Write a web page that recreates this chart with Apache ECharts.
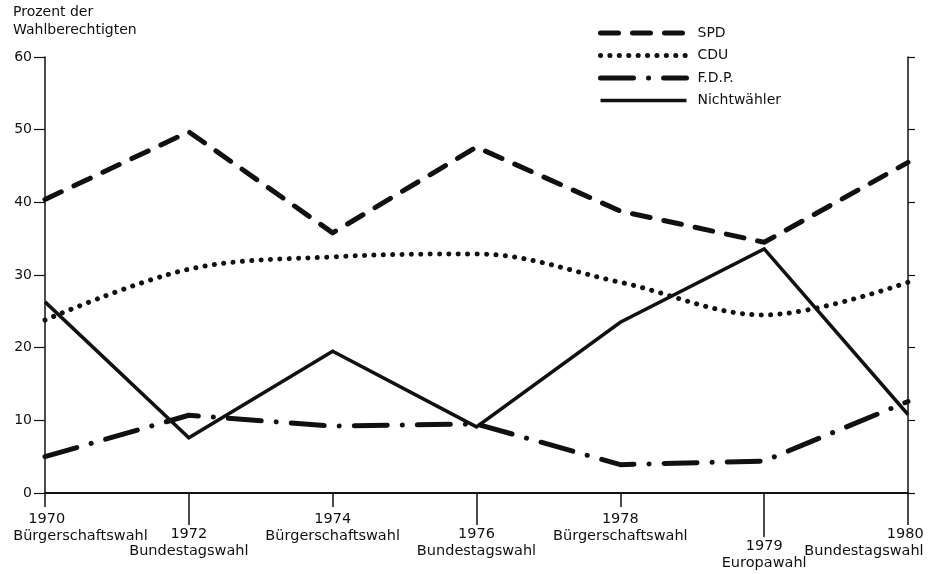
<!DOCTYPE html>
<html>
<head>
<meta charset="utf-8">
<script src="https://cdn.jsdelivr.net/npm/echarts@6/dist/echarts.min.js"></script>
<style>
  html, body { margin: 0; padding: 0; background: #fff; }
  #chart { width: 934px; height: 574px; }
</style>
</head>
<body>
<div id="chart"></div>
<script>
// Election years and the kind of election held in each
const years = ['1970', '1972', '1974', '1976', '1978', '1979', '1980'];
const elections = ['Bürgerschaftswahl', 'Bundestagswahl', 'Bürgerschaftswahl', 'Bundestagswahl',
                   'Bürgerschaftswahl', 'Europawahl', 'Bundestagswahl'];

// Share of eligible voters (percent)
const spd   = [40.4, 49.7, 35.8, 47.6, 38.8, 34.5, 45.5];
const cdu   = [23.8, 30.8, 32.5, 32.9, 29.0, 24.5, 29.0];
const fdp   = [5.0, 10.7, 9.2, 9.5, 3.9, 4.4, 12.6];
const nicht = [26.3, 7.6, 19.5, 9.1, 23.5, 33.6, 10.8];

const seriesNames = ['SPD', 'CDU', 'F.D.P.', 'Nichtwähler'];
const yMin = 0, yMax = 60, yStep = 10;
const yTitle = 'Prozent der\nWahlberechtigten';

const INK = '#111';
const FONT = 'DejaVu Sans';

// Two-line axis labels: year above election name, staggered by election type
function xLabel(value, index) {
  const name = elections[index];
  if (index === 0) return '{y0|' + value + '}\n{n0|' + name + '}';
  if (index === years.length - 1) return '{s| }\n{yr|' + value + '}\n{nr|' + name + '}';
  if (name === 'Europawahl') return '{s2| }\n{y|' + value + '}\n{n|' + name + '}';
  if (name === 'Bundestagswahl') return '{s| }\n{y|' + value + '}\n{n|' + name + '}';
  return '{y|' + value + '}\n{n|' + name + '}';
}

const txt = { fontSize: 14.5, lineHeight: 17, color: INK, fontFamily: FONT };
const labelRich = {
  y: txt, n: txt,
  y0: Object.assign({}, txt, { align: 'left', padding: [0, 0, 0, 86] }),
  n0: Object.assign({}, txt, { padding: [0, 0, 0, 71] }),
  yr: Object.assign({}, txt, { align: 'right', padding: [0, 88, 0, 0] }),
  nr: Object.assign({}, txt, { align: 'right', padding: [0, 88, 0, 0] }),
  s:  { fontSize: 6, lineHeight: 15 },
  s2: { fontSize: 6, lineHeight: 27 }
};

const gridBox = { left: 45, right: 26, top: 57, bottom: 81, outerBoundsMode: 'none', containLabel: false };

// Extra tick-only axes give longer ticks under selected years
function tickAxis(gridIndex, length, picks) {
  return {
    type: 'category', gridIndex: gridIndex, data: years, boundaryGap: false,
    axisLine: { show: false }, axisLabel: { show: false }, splitLine: { show: false },
    axisTick: { show: true, length: length, lineStyle: { color: INK, width: 1.5 },
                interval: function (i) { return picks.indexOf(i) >= 0; } }
  };
}
function hiddenY(gridIndex) {
  return { type: 'value', gridIndex: gridIndex, min: yMin, max: yMax, show: false };
}

const option = {
  backgroundColor: '#fff',
  animation: false,
  textStyle: { fontFamily: FONT, color: INK },
  title: {
    text: yTitle, left: 13, top: 3, padding: 0,
    textStyle: { fontSize: 14, fontWeight: 'normal', lineHeight: 18, color: INK, fontFamily: FONT }
  },
  legend: {
    orient: 'vertical', left: 598, top: 26, padding: 0,
    itemWidth: 86, itemHeight: 14, itemGap: 8.5,
    data: seriesNames,
    textStyle: { fontSize: 14, color: INK, fontFamily: FONT, padding: [0, 0, 0, 6] },
    itemStyle: { opacity: 0 },
    lineStyle: { width: 'inherit' }
  },
  grid: [gridBox, gridBox, gridBox],
  xAxis: [
    {
      type: 'category', gridIndex: 0, data: years, boundaryGap: false,
      axisLine: { show: true, lineStyle: { color: INK, width: 2 } },
      axisTick: { show: true, length: 14, lineStyle: { color: INK, width: 1.5 } },
      axisLabel: { interval: 0, margin: 18, formatter: xLabel, rich: labelRich, color: INK },
      splitLine: { show: false }
    },
    tickAxis(1, 32, [1, 3, 6]),
    tickAxis(2, 44, [5])
  ],
  yAxis: [
    {
      type: 'value', gridIndex: 0, position: 'left', min: yMin, max: yMax, interval: yStep,
      axisLine: { show: true, lineStyle: { color: INK, width: 1.5 } },
      axisTick: { show: true, length: 11, lineStyle: { color: INK, width: 1.2 } },
      axisLabel: { margin: 13, fontSize: 14, color: INK, fontFamily: FONT },
      splitLine: { show: false }
    },
    {
      type: 'value', gridIndex: 0, position: 'right', min: yMin, max: yMax, interval: yStep,
      axisLine: { show: true, lineStyle: { color: INK, width: 1.5 } },
      axisTick: { show: true, length: 7, lineStyle: { color: INK, width: 1.2 } },
      axisLabel: { show: false },
      splitLine: { show: false }
    },
    hiddenY(1),
    hiddenY(2)
  ],
  series: [
    {
      name: seriesNames[0], type: 'line', data: spd, symbol: 'none',
      itemStyle: { color: INK },
      lineStyle: { color: INK, width: 5, type: [18, 14], cap: 'round', join: 'round' }
    },
    {
      name: seriesNames[1], type: 'line', data: cdu, symbol: 'none', smooth: 0.35,
      itemStyle: { color: INK },
      lineStyle: { color: INK, width: 5, type: [0.1, 9.3], cap: 'round', join: 'round' }
    },
    {
      name: seriesNames[2], type: 'line', data: fdp, symbol: 'none',
      itemStyle: { color: INK },
      lineStyle: { color: INK, width: 5, type: [33, 15, 0.1, 15], cap: 'round', join: 'round' }
    },
    {
      name: seriesNames[3], type: 'line', data: nicht, symbol: 'none',
      itemStyle: { color: INK },
      lineStyle: { color: INK, width: 3.5, type: 'solid', join: 'miter' }
    }
  ]
};

const chart = echarts.init(document.getElementById('chart'), null, { renderer: 'canvas' });
chart.setOption(option);
</script>
</body>
</html>
